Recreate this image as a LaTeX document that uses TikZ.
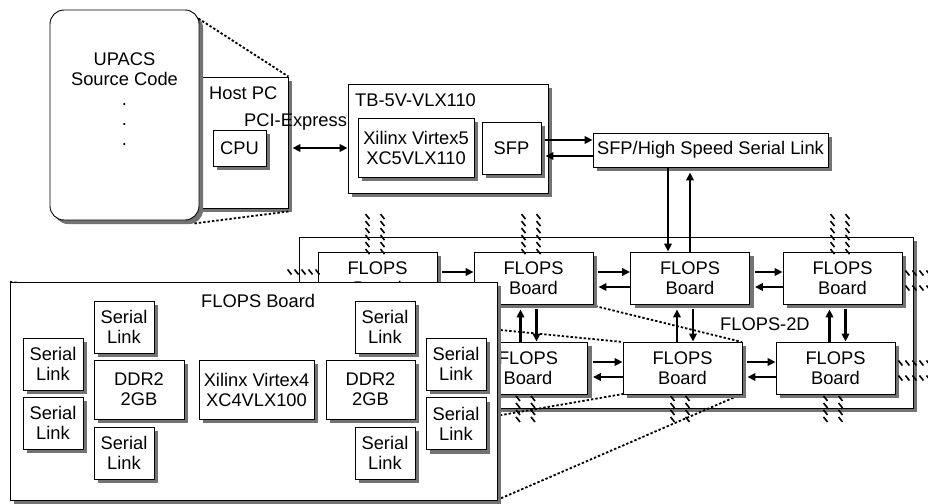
\documentclass[tikz,border=0pt]{standalone}
\usepackage{fontspec}
\setmainfont{Liberation Sans}
\usetikzlibrary{arrows.meta,calc,decorations.markings}

% a box with a gray drop shadow: [options]{name}{centre}{width}{height}{text}
\newcommand\castnode[6][]{%
  \fill[shadowfill,#1] ($(#3)+({-(#4)/2+4},{-(#5)/2+4})$) rectangle ($(#3)+({(#4)/2+4},{(#5)/2+4})$);
  \node[boxed, minimum width=#4pt, minimum height=#5pt, #1] (#2) at (#3) {#6};}

\begin{document}
\begin{tikzpicture}[x=1pt,y=-1pt,
  font=\fontsize{18.3}{20}\selectfont,
  shadowfill/.style={fill=black!55},
  boxed/.style={draw, line width=0.9pt, fill=white, inner sep=0pt, align=center},
  txt/.style={inner sep=0pt, align=center},
  link/.style={line width=2.2pt, -{Triangle[length=8pt,width=7.5pt]}},
  twoway/.style={line width=2.2pt, {Triangle[length=8pt,width=7.5pt]}-{Triangle[length=8pt,width=7.5pt]}},
  callout/.style={line width=1.8pt, dash pattern=on 2.4pt off 2pt},
  hatchline/.style={decoration={markings,
      mark=between positions 0 and 1 step 7pt with {\pgftransformresetnontranslations
        \draw[line width=1.6pt] (-2pt,2.5pt) -- (2pt,-2.5pt);}}, decorate}
]
\useasboundingbox (0,0) rectangle (928,503);

% ---------------- host side ----------------
\castnode{hostpc}{219,142.5}{138}{131}{}
\node[txt, anchor=base west] (hostlbl) at (209,99) {Host PC};
\castnode{cpu}{239.5,148}{53}{36}{CPU}

\castnode[rounded corners=14pt]{upacs}{124.5,115}{149}{210}{}
\node[txt, anchor=north] (upacstxt) at (124.5,52.7) {UPACS\\Source Code\\.\\.\\.};

\draw[callout] ($(upacs.north east)+(-1,9)$) -- (hostpc.north east);
\draw[callout] ($(upacs.south east)+(-5,3)$) -- ($(hostpc.south east)+(0,3)$);

\node[txt, anchor=base west] (pcie) at (244,126) {PCI-Express};

% ---------------- accelerator card ----------------
\castnode{tb}{448,138.5}{200}{109}{}
\node[txt, anchor=base west] (tblbl) at (355,106) {TB-5V-VLX110};
\castnode{v5}{416,147.5}{116}{59}{Xilinx Virtex5\\XC5VLX110}
\castnode{sfp}{511.5,148}{59}{52}{SFP}
\castnode{hs}{710.5,150}{235}{34}{SFP/High Speed Serial Link}

\draw[twoway] ($(hostpc.east |- cpu)+(4,0)$) -- (tb.west |- cpu);
\draw[link] ($(sfp.east)+(4,-8)$) -- ($(sfp.east -| hs.west)+(0,-8)$);
\draw[link] ($(sfp.east -| hs.west)+(0,8)$) -- ($(sfp.east)+(4,8)$);

% ---------------- FLOPS-2D array ----------------
\castnode{array}{606,322.5}{614}{171}{}

% corner points of the board shown in detail below
\coordinate (bigne) at (497,282);
\coordinate (bignw) at (10,282);
\coordinate (bigsw) at (10,500);
\coordinate (bigse) at (497,500);
\coordinate (fne) at (742,342);
\coordinate (fnw) at (623,342);
\coordinate (fsw) at (623,394);
\coordinate (fse) at (742,394);
\draw[callout] (bigne) -- (fne);
\draw[callout] (bignw) -- (fnw);
\draw[callout] (bigsw) -- (fsw);
\draw[callout] (bigse) -- (fse);

\castnode{a}{377.5,278}{119}{52}{FLOPS\\Board}
\castnode{b}{533.5,278}{119}{52}{FLOPS\\Board}
\castnode{c}{690,278}{119}{52}{FLOPS\\Board}
\castnode{d}{842.5,278}{119}{52}{FLOPS\\Board}
\castnode{e}{528,368}{119}{52}{FLOPS\\Board}
\castnode{f}{682.5,368}{119}{52}{FLOPS\\Board}
\castnode{g}{835.5,368}{119}{52}{FLOPS\\Board}

\node[txt, anchor=base west] (arraylbl) at (720,330) {FLOPS-2D};

% links to the serial link box
\draw[link] ([xshift=-22pt]c.north |- hs.south) -- ([xshift=-22pt]c.north);
\draw[link] (c.north) -- ($(c.north |- hs.south)+(0,5)$);

% horizontal links
\foreach \l/\r in {a/b, b/c, c/d, e/f, f/g}{
  \draw[link] ([xshift=5pt,yshift=6pt]\l.east) -- ([yshift=6pt]\r.west);
  \draw[link] ([yshift=-9pt]\r.west) -- ([xshift=5pt,yshift=-9pt]\l.east);
}
% vertical links
\foreach \u/\w in {b/e, c/f, d/g}{
  \draw[link] ([xshift=-13pt]\u.south |- \w.north) -- ([xshift=-13pt,yshift=-5pt]\u.south);
  \draw[link] ([xshift=3pt,yshift=-5pt]\u.south) -- ([xshift=3pt]\u.south |- \w.north);
}

% wrap-around links leaving the array
\foreach \n in {a,b,d}{
  \path[hatchline] ([xshift=-10pt,yshift=35pt]\n.north) -- ([xshift=-10pt]\n.north);
  \path[hatchline] ([xshift=5pt,yshift=35pt]\n.north) -- ([xshift=5pt]\n.north);
}
\foreach \n in {e,f,g}{
  \path[hatchline] ([xshift=-10pt,yshift=-4pt]\n.south) -- ([xshift=-10pt,yshift=-31pt]\n.south);
  \path[hatchline] ([xshift=5pt,yshift=-4pt]\n.south) -- ([xshift=5pt,yshift=-31pt]\n.south);
}
\foreach \n in {d,g}{
  \path[hatchline] ([xshift=5pt,yshift=5pt]\n.east) -- ([yshift=5pt]\n.east -| 930,0);
  \path[hatchline] ([xshift=5pt,yshift=-10pt]\n.east) -- ([yshift=-10pt]\n.east -| 930,0);
}
\path[hatchline] ([yshift=6pt]a.west) -- ([xshift=-33pt,yshift=6pt]a.west);

% ---------------- board detail ----------------
\castnode{big}{253.5,391}{487}{218}{}
\node[txt, anchor=base west] (biglbl) at (201,307) {FLOPS Board};

\castnode{sl1}{53,364}{60}{52}{Serial\\Link}
\castnode{sl2}{53,423}{60}{52}{Serial\\Link}
\castnode{sl3}{124,327}{60}{52}{Serial\\Link}
\castnode{sl4}{124,453}{60}{52}{Serial\\Link}
\castnode{sl5}{385,327}{60}{52}{Serial\\Link}
\castnode{sl6}{385,453}{60}{52}{Serial\\Link}
\castnode{sl7}{456,364}{60}{52}{Serial\\Link}
\castnode{sl8}{456,423.5}{60}{52}{Serial\\Link}
\castnode{ddrl}{139,389.5}{90}{59}{DDR2\\2GB}
\castnode{v4}{256.5,389.5}{115}{59}{Xilinx Virtex4\\XC4VLX100}
\castnode{ddrr}{370.5,389.5}{89}{59}{DDR2\\2GB}
\end{tikzpicture}
\end{document}
